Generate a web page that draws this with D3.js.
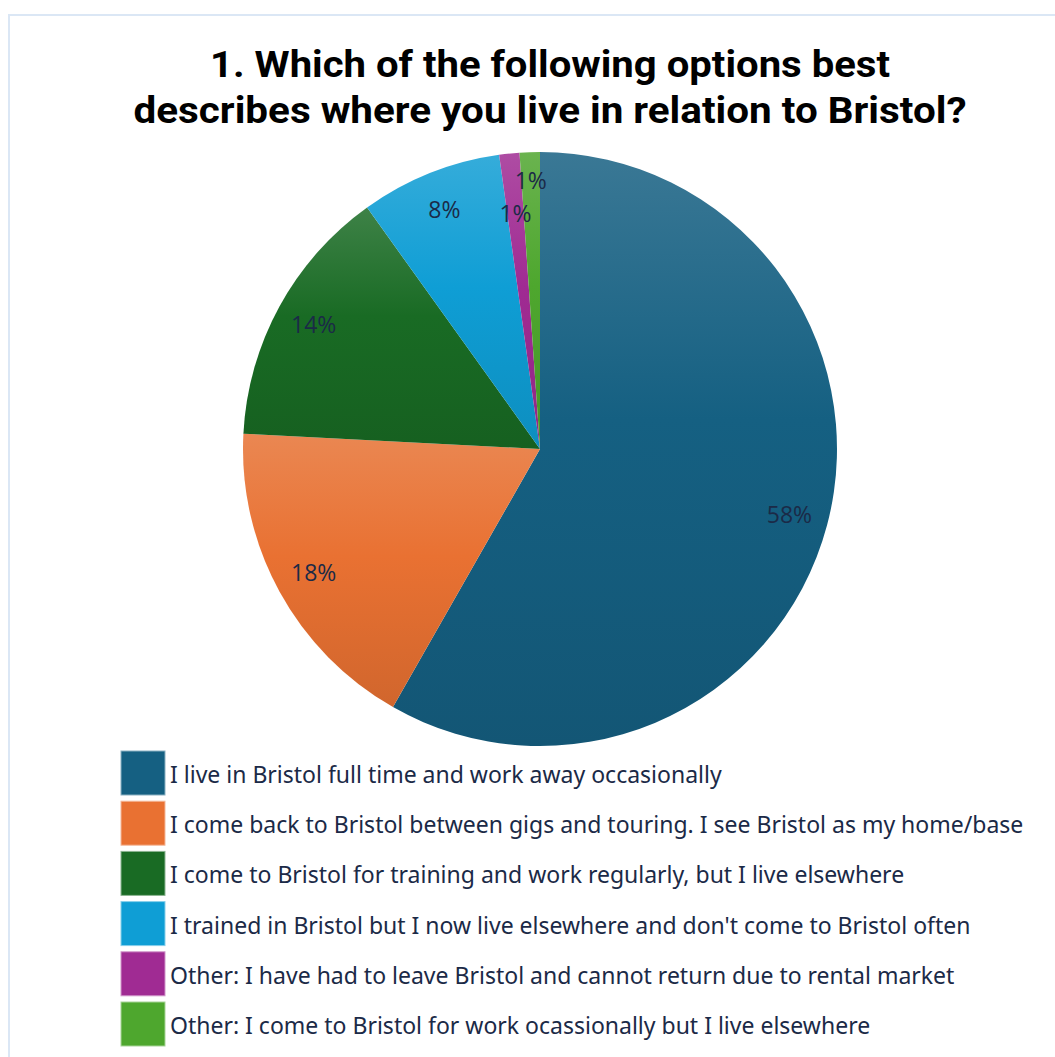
<!DOCTYPE html>
<html>
<head>
<meta charset="utf-8">
<script src="https://cdn.jsdelivr.net/npm/d3@7"></script>
<style>
  body { margin: 0; background: #fff; }
</style>
</head>
<body>
<script>
var width = 1055, height = 1057;

// responses per option (counts), in drawing order clockwise from 12 o'clock
var categories = [
  "I live in Bristol full time and work away occasionally",
  "I come back to Bristol between gigs and touring. I see Bristol as my home/base",
  "I come to Bristol for training and work regularly, but I live elsewhere",
  "I trained in Bristol but I now live elsewhere and don't come to Bristol often",
  "Other: I have had to leave Bristol and cannot return due to rental market",
  "Other: I come to Bristol for work ocassionally but I live elsewhere"
];
var counts = [53, 16, 13, 7, 1, 1];
var colors = ["#156082", "#E97132", "#196B24", "#0F9ED5", "#A02B93", "#4EA72E"];
var titleLines = ["1. Which of the following options best", "describes where you live in relation to Bristol?"];

var total = d3.sum(counts);
var data = categories.map(function (c, i) { return {name: c, value: counts[i], color: colors[i], idx: i}; });

var svg = d3.select("body").append("svg")
    .attr("width", width)
    .attr("height", height);

// chart frame
svg.append("path")
    .attr("d", "M9," + height + "V15H" + width)
    .attr("fill", "none")
    .attr("stroke", "#dbe7f5")
    .attr("stroke-width", 2);

// title
svg.append("g").selectAll("text")
    .data(titleLines)
    .enter()
    .append("text")
    .attr("x", 550)
    .attr("y", function (d, i) { return 77 + i * 46; })
    .attr("text-anchor", "middle")
    .attr("font-family", "Roboto, sans-serif")
    .attr("font-weight", "bold")
    .attr("font-size", 37)
    .attr("fill", "#000")
    .attr("textLength", function (d, i) { return i == 0 ? 680 : 833; })
    .attr("lengthAdjust", "spacingAndGlyphs")
    .text(function (d) { return d; });

// gradients, lighter at the top of each slice
var defs = svg.append("defs");
data.forEach(function (d) {
    var g = defs.append("linearGradient")
        .attr("id", "grad" + d.idx)
        .attr("x1", 0).attr("y1", 0).attr("x2", 0).attr("y2", 1);
    g.append("stop").attr("offset", "0%").attr("stop-color", d3.interpolateRgb(d.color, "#f0f0f0")(0.17));
    g.append("stop").attr("offset", "45%").attr("stop-color", d.color);
    g.append("stop").attr("offset", "100%").attr("stop-color", d3.color(d.color).darker(0.3));
});

var cx = 540, cy = 449, radius = 297;

var pie = d3.pie()
    .sort(null)
    .value(function (d) { return d.value; });

var arc = d3.arc()
    .innerRadius(0)
    .outerRadius(radius);

var arcs = pie(data);

var chart = svg.append("g")
    .attr("transform", "translate(" + cx + "," + cy + ")");

chart.selectAll("path.slice")
    .data(arcs)
    .enter()
    .append("path")
    .attr("class", "slice")
    .attr("d", arc)
    .attr("fill", function (d) { return "url(#grad" + d.data.idx + ")"; });

// labels, staggering the tiny slices so they don't collide
var smallCount = 0;
function labelRadius(d) {
    if (d.data.value / total < 0.02) {
        smallCount++;
        return smallCount % 2 == 1 ? 237 : 268;
    }
    return 258;
}

chart.selectAll("text.lbl")
    .data(arcs)
    .enter()
    .append("text")
    .attr("class", "lbl")
    .attr("transform", function (d) {
        var r = labelRadius(d);
        var c = d3.arc().innerRadius(r).outerRadius(r).centroid(d);
        return "translate(" + c[0] + "," + c[1] + ")";
    })
    .attr("text-anchor", "middle")
    .attr("dy", "0.36em")
    .attr("font-family", "'Open Sans', sans-serif")
    .attr("font-size", 23)
    .attr("fill", "#1b2a47")
    .text(function (d) { return Math.round(d.data.value / total * 100) + "%"; });

// legend
var legend = svg.append("g")
    .attr("transform", "translate(121,751)");

var rows = legend.selectAll("g")
    .data(data)
    .enter()
    .append("g")
    .attr("transform", function (d, i) { return "translate(0," + (i * 50.2) + ")"; });

rows.append("rect")
    .attr("width", 44)
    .attr("height", 44)
    .attr("fill", function (d) { return d.color; })
    .attr("stroke", function (d) { return d3.interpolateRgb(d.color, "#ffffff")(0.5); })
    .attr("stroke-width", 1);

rows.append("text")
    .attr("x", 49)
    .attr("y", 32)
    .attr("font-family", "'Noto Sans', sans-serif")
    .attr("font-size", 23)
    .attr("fill", "#1b2a47")
    .text(function (d) { return d.name; });
</script>
</body>
</html>
